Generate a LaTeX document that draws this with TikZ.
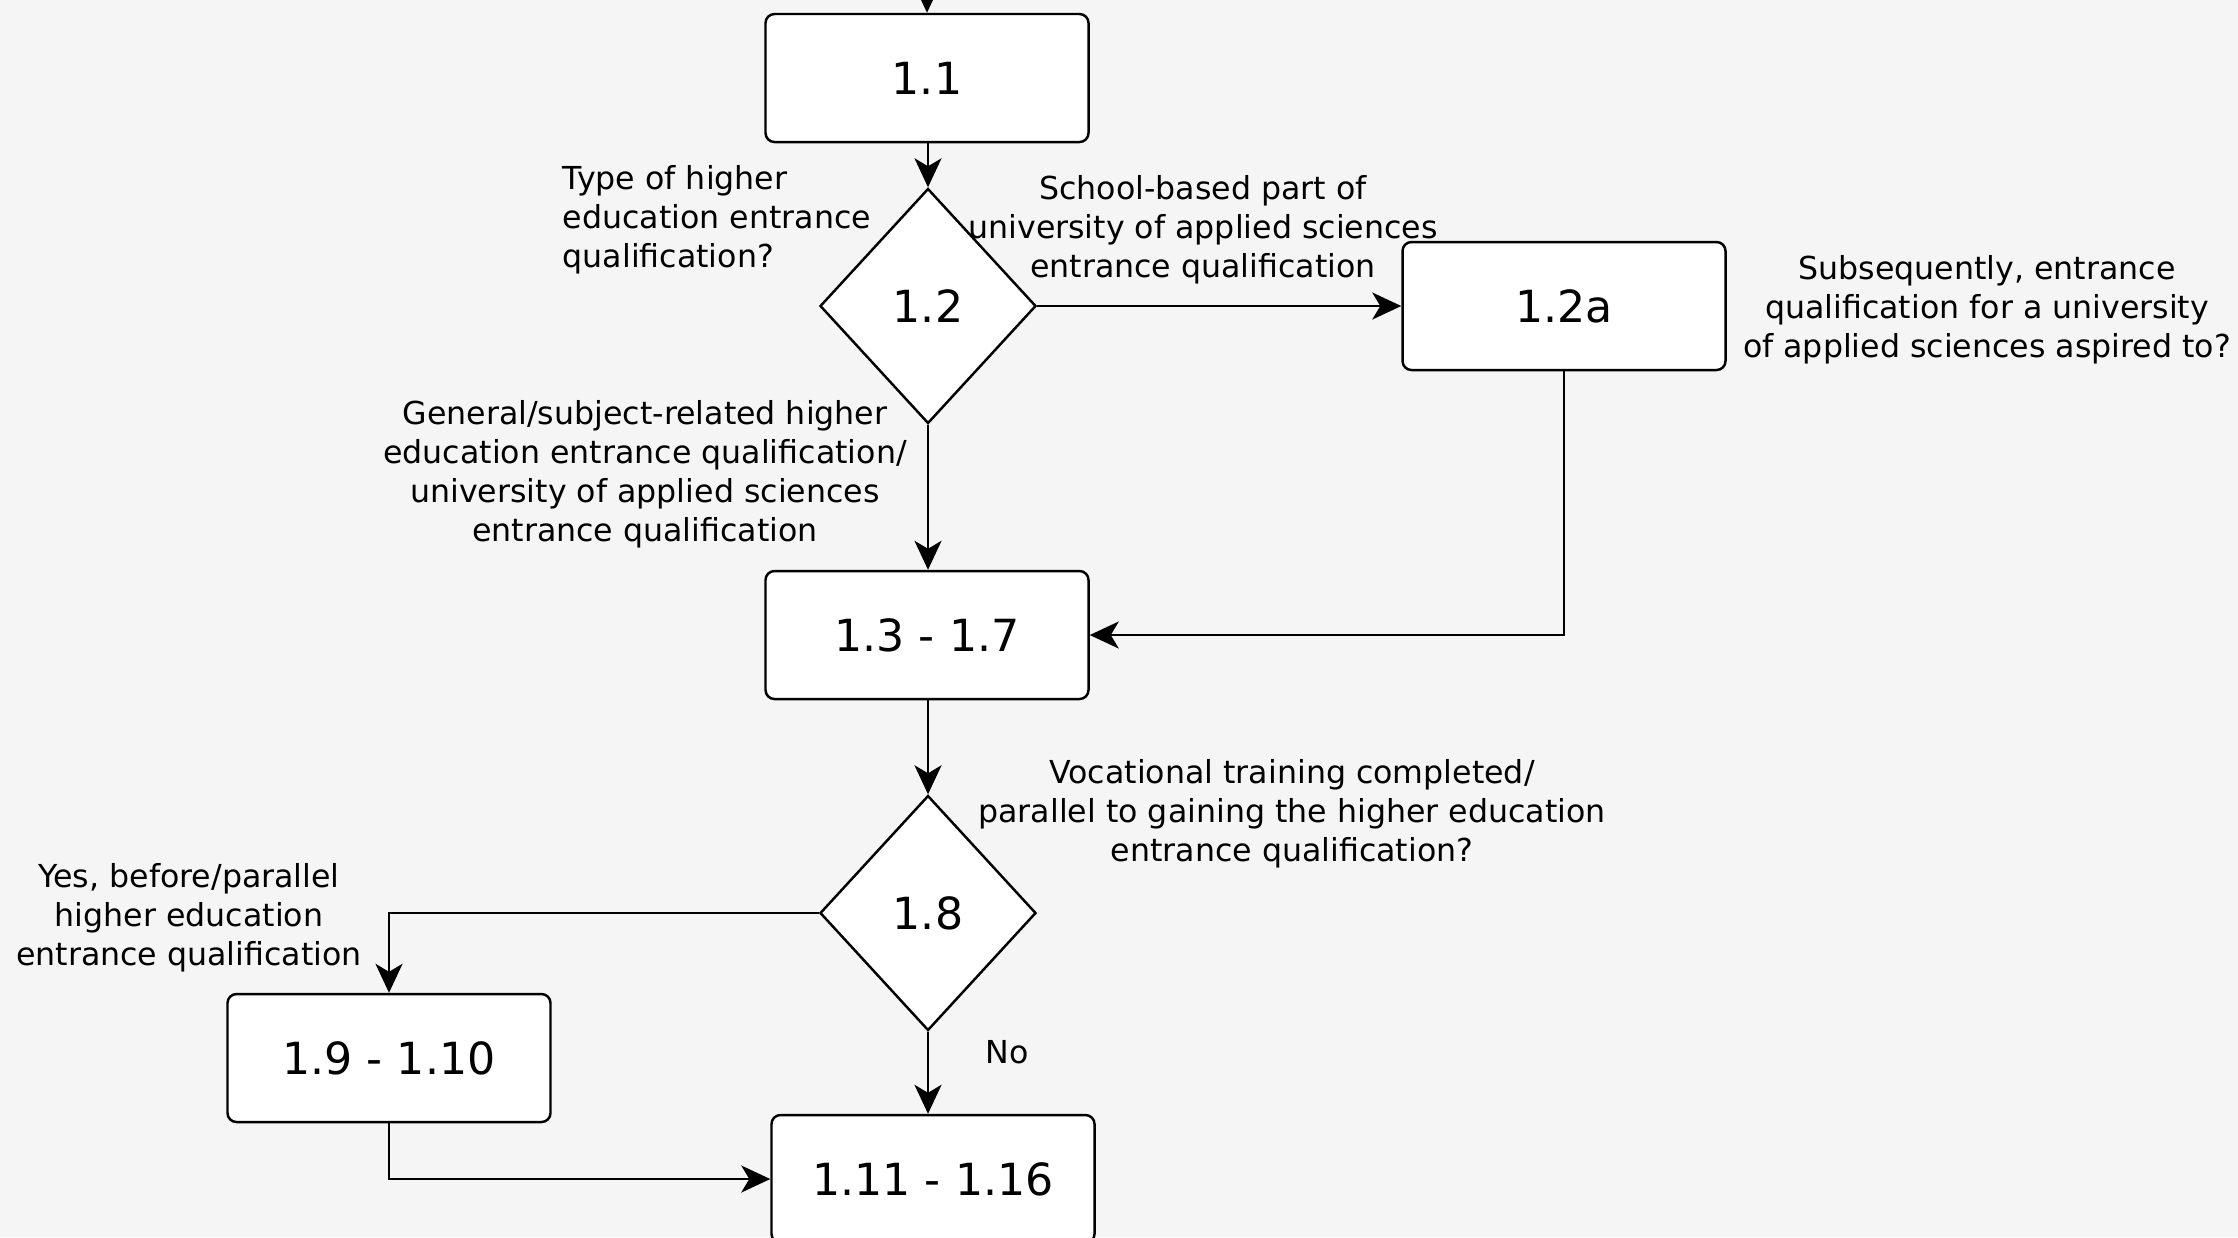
\documentclass[tikz,border=0pt]{standalone}
\usepackage{fontspec}
\setmainfont{DejaVu Sans}
\usetikzlibrary{arrows.meta,shapes.geometric}
\definecolor{bgpaper}{HTML}{F5F5F5}
\begin{document}
\begin{tikzpicture}[
    box/.style={draw,fill=white,line width=0.7pt,rounded corners=0.09cm,
      minimum width=3.23cm,minimum height=1.28cm,inner sep=0pt,
      font=\fontsize{12.6}{15}\selectfont},
    decide/.style={draw,fill=white,line width=0.7pt,diamond,inner sep=0pt,
      minimum width=2.16cm,minimum height=2.35cm,
      font=\fontsize{12.6}{15}\selectfont},
    lbl/.style={inner sep=0pt,align=center,font=\fontsize{9}{11.1}\selectfont},
    flow/.style={line width=0.7pt,-{Stealth[length=0.29cm,width=0.27cm,inset=0.08cm]}}
  ]
  \fill[bgpaper] (0,0) rectangle (22.38,-12.37);
  \useasboundingbox (0,0) rectangle (22.38,-12.37);

  % steps and decisions
  \node[box] (n11) at (9.27,-0.78) {1.1};
  \node[decide] (n12) at (9.28,-3.06) {1.2};
  \node[box] (n12a) at (15.64,-3.06) {1.2a};
  \node[box] (n13) at (9.27,-6.35) {1.3 - 1.7};
  \node[decide] (n18) at (9.28,-9.13) {1.8};
  \node[box] (n19) at (3.89,-10.58) {1.9 - 1.10};
  \node[box] (n111) at (9.33,-11.79) {1.11 - 1.16};
  \coordinate (in) at (9.27,0.2);

  % arrows
  \draw[flow] (in) -- (n11.north);
  \draw[flow] (n11.south -| n12) -- (n12.north);
  \draw[flow] (n12.east) -- (n12a.west);
  \draw[flow] (n12.south) -- (n12.south |- n13.north);
  \draw[flow] (n12a.south) |- (n13.east);
  \draw[flow] (n13.south -| n18) -- (n18.north);
  \draw[flow] (n18.west) -| (n19.north);
  \draw[flow] (n18.south) -- (n18.south |- n111.north);
  \draw[flow] (n19.south) |- (n111.west);

  % labels
  \node[lbl,align=left,anchor=west] (lType) at (5.62,-2.20)
    {Type of higher\\education entrance\\qualification?};
  \node[lbl] (lSchool) at (12.03,-2.30)
    {School-based part of\\university of applied sciences\\entrance qualification};
  \node[lbl] (lSubseq) at (19.87,-3.10)
    {Subsequently, entrance\\qualification for a university\\of applied sciences aspired to?};
  \node[lbl] (lGeneral) at (6.45,-4.74)
    {General/subject-related higher\\education entrance qualification/\\university of applied sciences\\entrance qualification};
  \node[lbl] (lVoc) at (12.92,-8.14)
    {Vocational training completed/\\parallel to gaining the higher education\\entrance qualification?};
  \node[lbl] (lYes) at (1.89,-9.18)
    {Yes, before/parallel\\higher education\\entrance qualification};
  \node[lbl] (lNo) at (10.07,-10.52) {No};
\end{tikzpicture}
\end{document}
